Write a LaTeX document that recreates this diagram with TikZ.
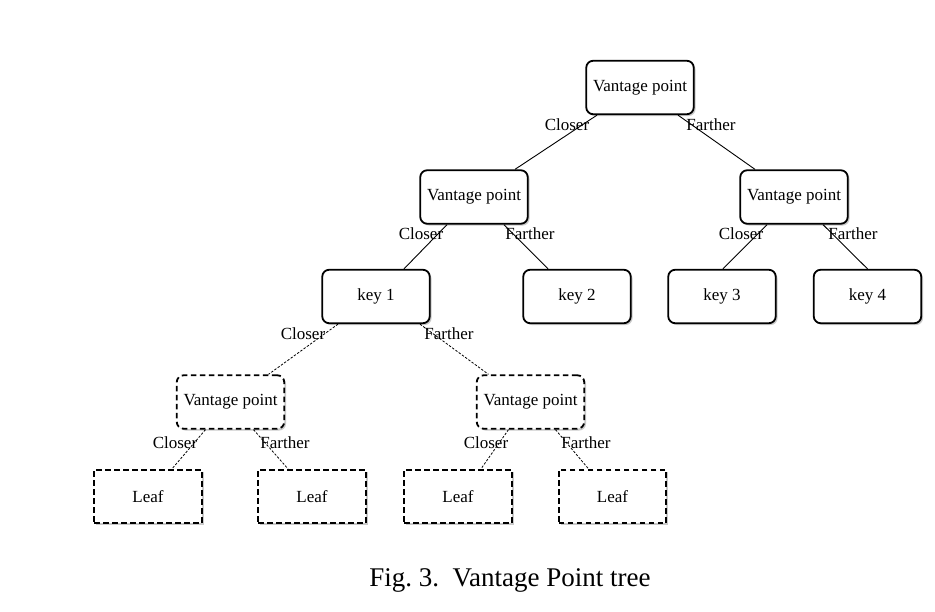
\documentclass[tikz,border=0pt]{standalone}
\usepackage{fontspec}
\setmainfont{Liberation Serif}
\usetikzlibrary{shadows}
\begin{document}
\begin{tikzpicture}[x=1pt,y=-1pt,
  box/.style={draw=black,line width=1.8pt,fill=white,minimum width=107.5pt,minimum height=53.5pt,
    inner sep=0pt,font=\fontsize{17}{20}\selectfont,
    drop shadow={shadow xshift=1.8pt,shadow yshift=-1.8pt,opacity=0.35,fill=black!60}},
  solidbox/.style={box,rounded corners=7pt},
  dvp/.style={box,rounded corners=7pt,dash pattern=on 5.5pt off 3.5pt},
  leafbox/.style={box,dash pattern=on 5.5pt off 3.5pt},
  edge/.style={draw=black,line width=0.9pt},
  dedge/.style={draw=black,line width=0.8pt,dash pattern=on 2.4pt off 1.6pt},
  lab/.style={font=\fontsize{17}{20}\selectfont,inner sep=0pt}]
\useasboundingbox[fill=white] (0,0) rectangle (935,612);
% nodes
\node[solidbox] (top) at (640,87.5) {Vantage point};
\node[solidbox] (vl) at (474,197) {Vantage point};
\node[solidbox] (vr) at (794,197) {Vantage point};
\node[solidbox] (k1) at (376,296.5) {key 1};
\node[solidbox] (k2) at (577,296.5) {key 2};
\node[solidbox] (k3) at (722,296.5) {key 3};
\node[solidbox] (k4) at (867.5,296.5) {key 4};
\node[dvp] (dl) at (230.5,402) {Vantage point};
\node[dvp] (dr) at (530.5,402) {Vantage point};
\node[leafbox] (l1) at (148,496.5) {Leaf};
\node[leafbox] (l2) at (312,496.5) {Leaf};
\node[leafbox] (l3) at (458,496.5) {Leaf};
\node[leafbox] (l4) at (612.5,496.5) {Leaf};
% edges
\draw[edge] ([xshift=-43pt]top.south) -- ([xshift=41pt]vl.north);
\draw[edge] ([xshift=38pt]top.south) -- ([xshift=-39pt]vr.north);
\draw[edge] ([xshift=-27pt]vl.south) -- ([xshift=28pt]k1.north);
\draw[edge] ([xshift=30pt]vl.south) -- ([xshift=-29pt]k2.north);
\draw[edge] ([xshift=-27pt]vr.south) -- ([xshift=1pt]k3.north);
\draw[edge] ([xshift=29pt]vr.south) -- (k4.north);
\draw[dedge] ([xshift=-38pt]k1.south) -- ([xshift=38pt]dl.north);
\draw[dedge] ([xshift=44pt]k1.south) -- ([xshift=-42pt]dr.north);
\draw[dedge] ([xshift=-25pt]dl.south) -- ([xshift=24pt]l1.north);
\draw[dedge] ([xshift=23pt]dl.south) -- ([xshift=-24pt]l2.north);
\draw[dedge] ([xshift=-22pt]dr.south) -- ([xshift=23pt]l3.north);
\draw[dedge] ([xshift=25pt]dr.south) -- ([xshift=-24pt]l4.north);
% labels
\node[lab] (c0) at (567,124.5) {Closer};
\node[lab] (f0) at (711,124.5) {Farther};
\node[lab] (c1) at (421,233.5) {Closer};
\node[lab] (f1) at (530,233.5) {Farther};
\node[lab] (c2) at (741,233.5) {Closer};
\node[lab] (f2) at (853,233.5) {Farther};
\node[lab] (c3) at (303,333.5) {Closer};
\node[lab] (f3) at (449,333.5) {Farther};
\node[lab] (c4) at (175,442.5) {Closer};
\node[lab] (f4) at (285,442.5) {Farther};
\node[lab] (c5) at (486,442.5) {Closer};
\node[lab] (f5) at (586,442.5) {Farther};
% caption
\node[inner sep=0pt,anchor=base,font=\fontsize{27}{32}\selectfont] (cap) at (510,586) {Fig.~3.\hspace{0.5em}Vantage Point tree};
\end{tikzpicture}
\end{document}
